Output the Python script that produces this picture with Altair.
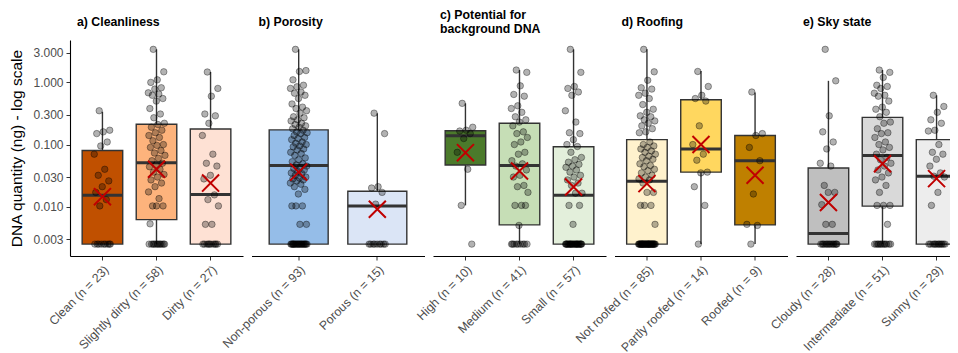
import altair as alt
import pandas as pd

# ---------------- data ----------------
Y_DOMAIN = [0.00161, 4.81]
Y_TICKS = [0.003, 0.01, 0.03, 0.1, 0.3, 1, 3]

# a) Cleanliness
cats_a = ["Clean", "Slightly dirty", "Dirty"]
pts_clean = [0.35, 0.17, 0.16, 0.15, 0.11, 0.095, 0.07, 0.04, 0.032, 0.026, 0.021,
             0.017, 0.013, 0.0103, 0.0025, 0.0025, 0.0025, 0.0025, 0.0025, 0.0025,
             0.0025, 0.0025, 0.0025]
pts_slightly = [3.4, 1.48, 1.1, 1.0, 0.82, 0.78, 0.68, 0.65, 0.62, 0.55, 0.5, 0.38,
                0.31, 0.27, 0.22, 0.21, 0.19, 0.17, 0.155, 0.14, 0.13, 0.115, 0.1,
                0.097, 0.09, 0.08, 0.073, 0.067, 0.06, 0.055, 0.05, 0.047, 0.044,
                0.04, 0.036, 0.033, 0.03, 0.027, 0.024, 0.021, 0.0173, 0.0135,
                0.0103, 0.0103, 0.0103, 0.0053, 0.0025, 0.0025, 0.0025, 0.0025,
                0.0025, 0.0025, 0.0025, 0.0025, 0.0025, 0.0025, 0.0025, 0.0025]
pts_dirty = [1.47, 0.8, 0.6, 0.31, 0.29, 0.22, 0.14, 0.07, 0.05, 0.045, 0.032, 0.028,
             0.0155, 0.013, 0.0103, 0.0052, 0.0052, 0.0025, 0.0025, 0.0025, 0.0025,
             0.0025, 0.0025, 0.0025, 0.0025, 0.0025, 0.0025]
lo_a = [0.0025, 0.0025, 0.0025]
q1_a = [0.0025, 0.0062, 0.0025]
med_a = [0.0153, 0.051, 0.0157]
q3_a = [0.080, 0.212, 0.178]
hi_a = [0.337, 3.4, 1.47]
mean_a = [0.0145, 0.040, 0.024]
fill_a = ["#C05000", "#FDB37C", "#FEE1D4"]

# b) Porosity
cats_b = ["Non-porous", "Porous"]
pts_nonporous = [3.4, 1.55, 1.5, 1.1, 0.9, 0.85, 0.8, 0.7, 0.67, 0.62, 0.55, 0.45,
                 0.4, 0.38, 0.35, 0.32, 0.28, 0.27, 0.25, 0.24, 0.22, 0.21, 0.2,
                 0.19, 0.18, 0.17, 0.16, 0.155, 0.15, 0.14, 0.13, 0.125, 0.12, 0.11,
                 0.105, 0.1, 0.095, 0.092, 0.085, 0.082, 0.075, 0.072, 0.067, 0.061,
                 0.057, 0.053, 0.049, 0.047, 0.045, 0.043, 0.041, 0.039, 0.037,
                 0.035, 0.034, 0.032, 0.03, 0.029, 0.028, 0.027, 0.026, 0.024, 0.023,
                 0.021, 0.019, 0.016, 0.0103, 0.0103, 0.0103, 0.0052, 0.0052,
                 0.0025, 0.0025, 0.0025, 0.0025, 0.0025, 0.0025, 0.0025, 0.0025,
                 0.0025, 0.0025, 0.0025, 0.0025, 0.0025, 0.0025, 0.0025, 0.0025,
                 0.0025, 0.0025, 0.0025, 0.0025, 0.0025, 0.0025]
pts_porous = [0.32, 0.15, 0.021, 0.02, 0.017, 0.011, 0.0025, 0.0025, 0.0025, 0.0025,
              0.0025, 0.0025, 0.0025, 0.0025, 0.0025]
lo_b = [0.0025, 0.0025]
q1_b = [0.0025, 0.0025]
med_b = [0.046, 0.0103]
q3_b = [0.172, 0.0177]
hi_b = [3.4, 0.318]
mean_b = [0.036, 0.0091]
fill_b = ["#95BDE8", "#DBE5F6"]

# c) Potential for background DNA
cats_c = ["High", "Medium", "Small"]
pts_high = [0.46, 0.19, 0.17, 0.165, 0.15, 0.125, 0.075, 0.04, 0.0105, 0.0025]
pts_medium = [1.58, 1.45, 0.88, 0.64, 0.6, 0.42, 0.38, 0.33, 0.28, 0.25, 0.23, 0.2,
              0.16, 0.15, 0.13, 0.11, 0.1, 0.075, 0.07, 0.055, 0.049, 0.045, 0.039,
              0.032, 0.03, 0.022, 0.021, 0.017, 0.0105, 0.0105, 0.0105, 0.005,
              0.0025, 0.0025, 0.0025, 0.0025, 0.0025, 0.0025, 0.0025, 0.0025, 0.0025]
pts_small = [3.4, 1.45, 0.86, 0.8, 0.7, 0.62, 0.35, 0.23, 0.155, 0.15, 0.12, 0.1,
             0.093, 0.075, 0.062, 0.057, 0.052, 0.048, 0.045, 0.043, 0.039, 0.036,
             0.032, 0.03, 0.027, 0.024, 0.022, 0.0165, 0.0165, 0.0105, 0.0105,
             0.0052, 0.0025, 0.0025, 0.0025, 0.0025, 0.0025, 0.0025, 0.0025, 0.0025,
             0.0025, 0.0025, 0.0025, 0.0025, 0.0025, 0.0025, 0.0025, 0.0025, 0.0025,
             0.0025, 0.0025, 0.0025, 0.0025, 0.0025, 0.0025, 0.0025, 0.0025]
lo_c = [0.0105, 0.0025, 0.0025]
q1_c = [0.047, 0.0051, 0.0025]
med_c = [0.139, 0.046, 0.0153]
q3_c = [0.167, 0.22, 0.092]
hi_c = [0.46, 1.58, 3.4]
mean_c = [0.074, 0.0375, 0.0208]
fill_c = ["#4B7A2B", "#C6DEB6", "#E3EFDB"]

# d) Roofing
cats_d = ["Not roofed", "Partly roofed", "Roofed"]
pts_notroofed = [3.4, 1.48, 1.08, 0.82, 0.78, 0.67, 0.62, 0.55, 0.44, 0.37, 0.33,
                 0.29, 0.28, 0.25, 0.24, 0.22, 0.2, 0.18, 0.16, 0.155, 0.11, 0.1,
                 0.095, 0.09, 0.085, 0.079, 0.075, 0.07, 0.065, 0.062, 0.058, 0.055,
                 0.049, 0.046, 0.044, 0.04, 0.038, 0.035, 0.032, 0.03, 0.028, 0.027,
                 0.024, 0.017, 0.017, 0.0105, 0.0105, 0.0105, 0.0052,
                 0.0025, 0.0025, 0.0025, 0.0025, 0.0025, 0.0025, 0.0025, 0.0025,
                 0.0025, 0.0025, 0.0025, 0.0025, 0.0025, 0.0025, 0.0025, 0.0025,
                 0.0025, 0.0025, 0.0025, 0.0025, 0.0025, 0.0025, 0.0025, 0.0025,
                 0.0025, 0.0025, 0.0025, 0.0025, 0.0025, 0.0025, 0.0025, 0.0025,
                 0.0025, 0.0025, 0.0025, 0.0025]
pts_partly = [1.5, 0.86, 0.62, 0.55, 0.5, 0.2, 0.1, 0.07, 0.056, 0.036, 0.035, 0.021,
              0.0105, 0.0025]
pts_roofed = [0.7, 0.15, 0.14, 0.09, 0.055, 0.016, 0.0052, 0.005, 0.0025]
lo_d = [0.0025, 0.0025, 0.0025]
q1_d = [0.0025, 0.036, 0.0051]
med_d = [0.0256, 0.085, 0.055]
q3_d = [0.12, 0.525, 0.14]
hi_d = [3.4, 1.53, 0.69]
mean_d = [0.0235, 0.1, 0.032]
fill_d = ["#FFF2CD", "#FFD75F", "#BF8000"]

# e) Sky state
cats_e = ["Cloudy", "Intermediate", "Sunny"]
pts_cloudy = [3.4, 1.06, 0.29, 0.16, 0.11, 0.085, 0.05, 0.045, 0.022, 0.017, 0.017,
              0.0108, 0.0052, 0.0052, 0.0025, 0.0025, 0.0025, 0.0025, 0.0025, 0.0025,
              0.0025, 0.0025, 0.0025, 0.0025, 0.0025, 0.0025, 0.0025, 0.0025]
pts_intermediate = [1.58, 1.45, 1.2, 0.9, 0.86, 0.8, 0.67, 0.62, 0.6, 0.5, 0.4, 0.37,
                    0.33, 0.28, 0.23, 0.22, 0.18, 0.155, 0.15, 0.13, 0.11, 0.1,
                    0.09, 0.082, 0.07, 0.062, 0.057, 0.05, 0.045, 0.039, 0.035,
                    0.03, 0.027, 0.022, 0.017, 0.0105, 0.0105, 0.0105, 0.0052,
                    0.0025, 0.0025, 0.0025, 0.0025, 0.0025, 0.0025, 0.0025, 0.0025,
                    0.0025, 0.0025, 0.0025, 0.0025]
pts_sunny = [0.62, 0.41, 0.33, 0.25, 0.22, 0.17, 0.165, 0.1, 0.075, 0.07, 0.058,
             0.045, 0.035, 0.031, 0.03, 0.017, 0.0105, 0.0025, 0.0025, 0.0025,
             0.0025, 0.0025, 0.0025, 0.0025, 0.0025, 0.0025, 0.0025, 0.0025, 0.0025]
lo_e = [0.0025, 0.0025, 0.0025]
q1_e = [0.0025, 0.0102, 0.0025]
med_e = [0.0037, 0.0667, 0.0308]
q3_e = [0.042, 0.274, 0.12]
hi_e = [1.06, 1.58, 0.62]
mean_e = [0.0117, 0.049, 0.0283]
fill_e = ["#BFBFBF", "#D9D9D9", "#EDEDED"]

titles = [["a) Cleanliness"], ["b) Porosity"], ["c) Potential for", "background DNA"],
          ["d) Roofing"], ["e) Sky state"]]

# ---------------- layout / style ----------------
W, H = 173, 216
FONT = "Liberation Sans"
PAD_IN, PAD_OUT = 0.25, 0.225
JIT_PX = 8.5


def panel(title, cats, groups, lo, q1, med, q3, hi, mean, fills, show_y, toffset):
    labels = [f"{c} (n = {len(g)})" for c, g in zip(cats, groups)]
    n = len(cats)
    step = W / (n - PAD_IN + 2 * PAD_OUT)
    bw = (1 - PAD_IN) * step

    stats = pd.DataFrame({"cat": labels, "lo": lo, "q1": q1, "med": med,
                          "q3": q3, "hi": hi, "mean": mean, "fill": fills})
    rows = []
    for lab, g in zip(labels, groups):
        for i, v in enumerate(g):
            rows.append({"cat": lab, "v": v,
                         "jit": (((i * 0.618034 + 0.31) % 1) * 2 - 1) * JIT_PX})
    pdf = pd.DataFrame(rows)

    xenc = alt.X("cat:N", sort=labels,
                 scale=alt.Scale(domain=labels, paddingInner=PAD_IN, paddingOuter=PAD_OUT),
                 axis=alt.Axis(title=None, labelAngle=-45, labelAlign="right",
                               labelBaseline="top", labelFontSize=12.3,
                               labelPadding=3, tickSize=4))
    ysc = alt.Scale(type="log", domain=Y_DOMAIN, nice=False)
    if show_y:
        yax = alt.Axis(title="DNA quantity (ng) - log scale", values=Y_TICKS,
                       format=".3f", titleFontSize=15.5, titleFontWeight="normal",
                       titleColor="black", titlePadding=8, labelFontSize=12,
                       labelPadding=3, tickSize=4)
    else:
        yax = None

    base = alt.Chart(stats)
    whisk = base.mark_rule(color="#333333", strokeWidth=1.4).encode(
        x=xenc, y=alt.Y("lo:Q", scale=ysc, axis=yax), y2="hi:Q")
    box = base.mark_bar(stroke="#333333", strokeWidth=1.4).encode(
        x=xenc, y=alt.Y("q1:Q", scale=ysc, axis=yax), y2="q3:Q",
        color=alt.Color("fill:N", scale=None))
    medl = base.mark_tick(color="#333333", thickness=3, size=bw, opacity=1).encode(
        x=xenc, y=alt.Y("med:Q", scale=ysc, axis=yax))
    pts = alt.Chart(pdf).mark_circle(size=42, fill="black", fillOpacity=0.3,
                                     stroke="black", strokeOpacity=0.45,
                                     strokeWidth=0.8,
                                     xOffset={"expr": "datum.jit"}).encode(
        x=xenc, y=alt.Y("v:Q", scale=ysc, axis=yax))
    meanm = base.mark_point(shape="M-1,-1L1,1M-1,1L1,-1", size=290, filled=False,
                            color="#C00000", strokeWidth=2, opacity=1).encode(
        x=xenc, y=alt.Y("mean:Q", scale=ysc, axis=yax))

    return alt.layer(whisk, box, medl, pts, meanm).properties(
        width=W, height=H,
        title=alt.TitleParams(text=title, anchor="start", frame="group", dx=7,
                              offset=toffset, fontSize=12.3, fontWeight="bold",
                              font=FONT, color="black", lineHeight=14))


charts = [
    panel(titles[0], cats_a, [pts_clean, pts_slightly, pts_dirty],
          lo_a, q1_a, med_a, q3_a, hi_a, mean_a, fill_a, True, 12),
    panel(titles[1], cats_b, [pts_nonporous, pts_porous],
          lo_b, q1_b, med_b, q3_b, hi_b, mean_b, fill_b, False, 12),
    panel(titles[2], cats_c, [pts_high, pts_medium, pts_small],
          lo_c, q1_c, med_c, q3_c, hi_c, mean_c, fill_c, False, 5),
    panel(titles[3], cats_d, [pts_notroofed, pts_partly, pts_roofed],
          lo_d, q1_d, med_d, q3_d, hi_d, mean_d, fill_d, False, 12),
    panel(titles[4], cats_e, [pts_cloudy, pts_intermediate, pts_sunny],
          lo_e, q1_e, med_e, q3_e, hi_e, mean_e, fill_e, False, 12),
]

chart = alt.hconcat(*charts, spacing=8.5, bounds="flush").configure_view(
    stroke=None
).configure_axis(
    labelFont=FONT, titleFont=FONT, labelColor="#4D4D4D", tickColor="#333333",
    domainColor="black", domainWidth=1.1, grid=False
).properties(
    background="white",
    autosize=alt.AutoSizeParams(type="none"),
    padding={"left": 62, "top": 32, "right": 880, "bottom": 305},
)

chart.save("out.html", embed_options={"renderer": "svg", "actions": False})
